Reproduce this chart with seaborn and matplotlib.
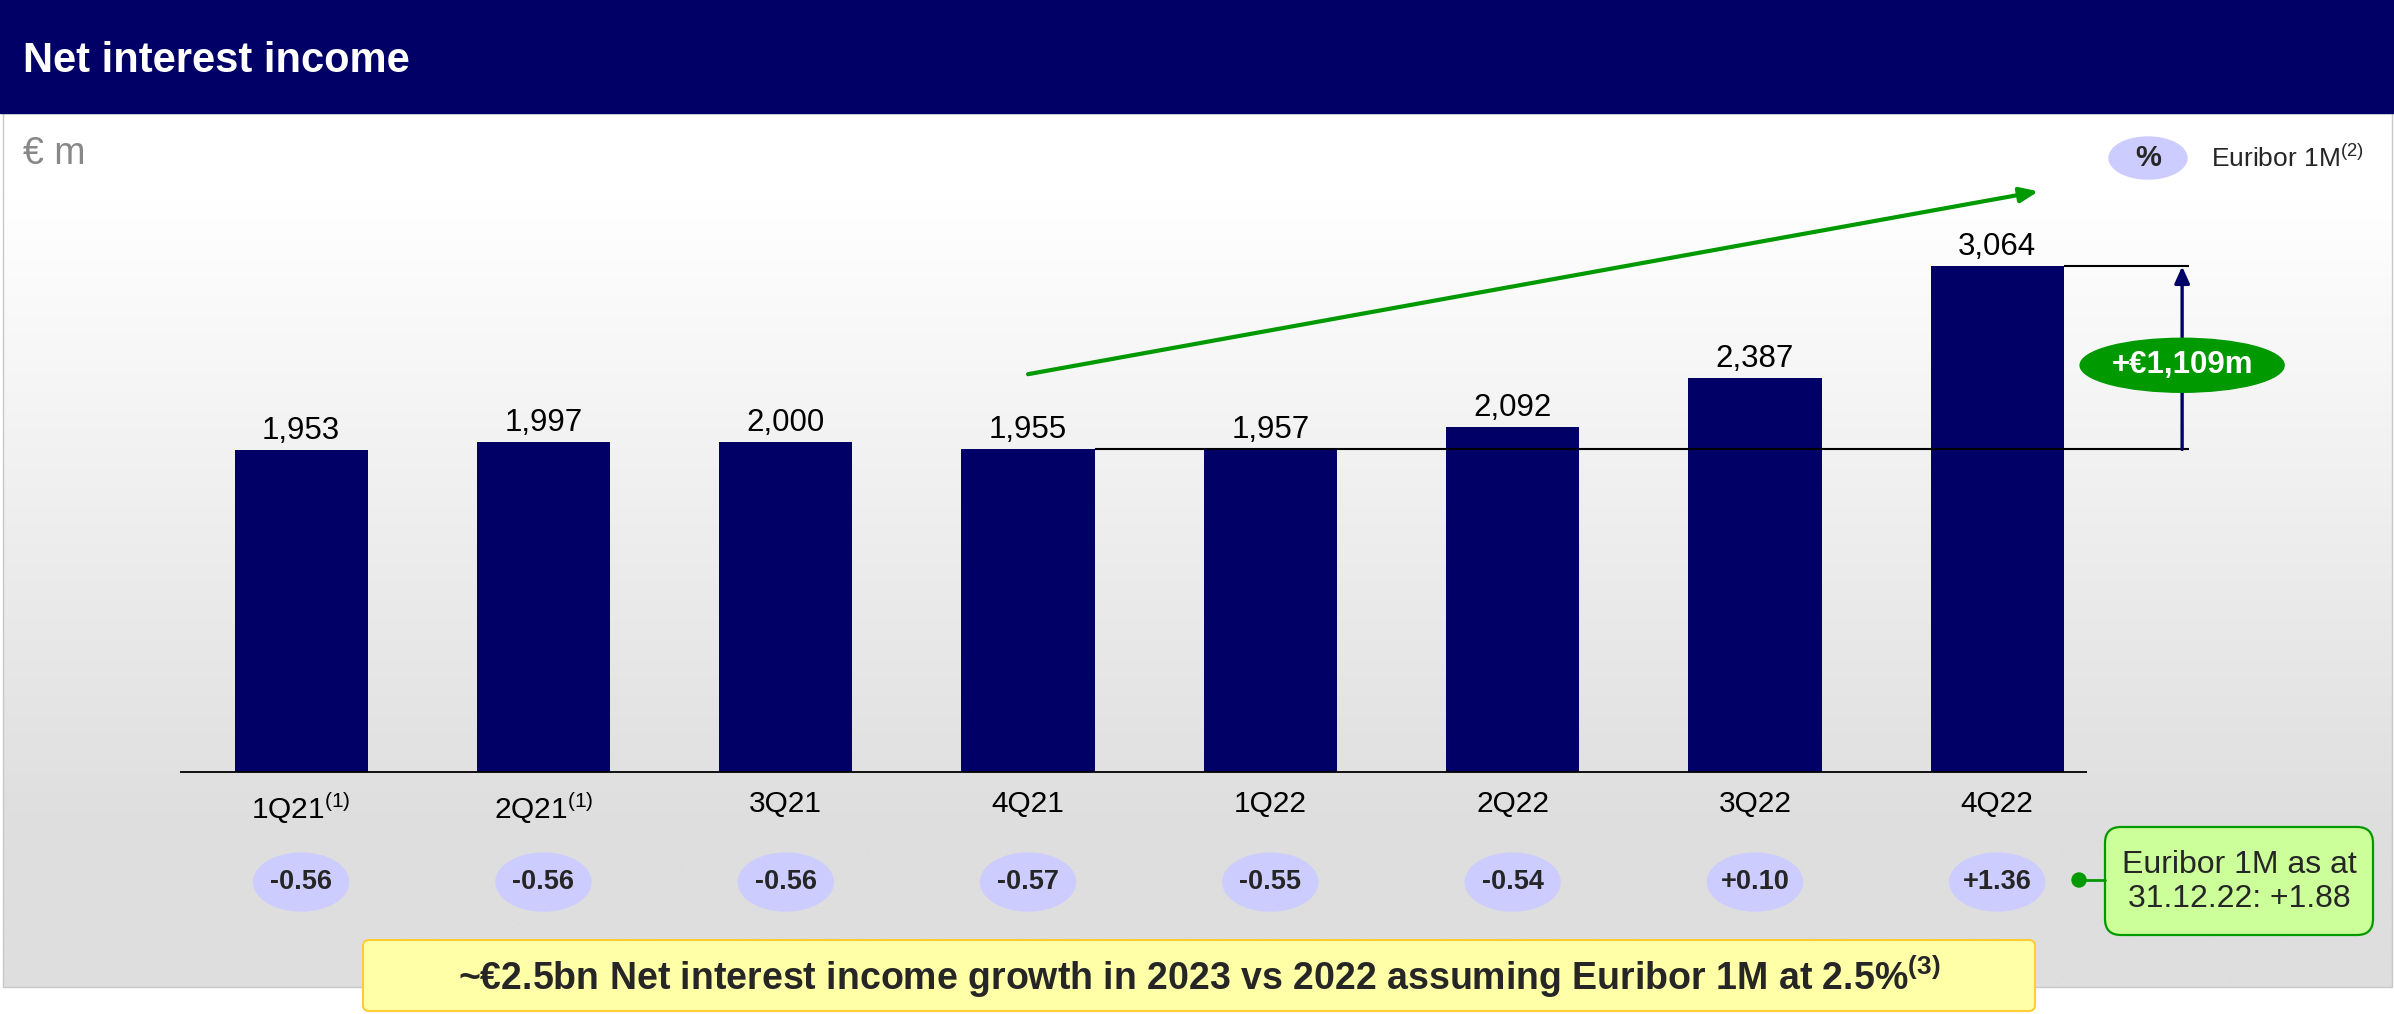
import numpy as np
import matplotlib
matplotlib.use("Agg")
import matplotlib.pyplot as plt
import seaborn as sns
from matplotlib.patches import Rectangle, Ellipse, FancyBboxPatch, Circle

# ---- data -------------------------------------------------------------
quarters = ["1Q21", "2Q21", "3Q21", "4Q21", "1Q22", "2Q22", "3Q22", "4Q22"]
quarter_notes = ["(1)", "(1)", "", "", "", "", "", ""]
net_interest_income = [1953, 1997, 2000, 1955, 1957, 2092, 2387, 3064]
euribor_1m = [-0.56, -0.56, -0.56, -0.57, -0.55, -0.54, 0.10, 1.36]
euribor_year_end = 1.88
title = "Net interest income"
unit_label = "€ m"
legend_label = "Euribor 1M"
outlook = "~€2.5bn Net interest income growth in 2023 vs 2022 assuming Euribor 1M at 2.5%"

# ---- style ------------------------------------------------------------
W, H, DPI = 2394, 1014, 100
NAVY = "#000066"
GREEN = "#009900"
LILAC = "#ccccff"

sns.set_style("white")
FONT = ["Liberation Sans", "DejaVu Sans"]
plt.rcParams["font.family"] = FONT
plt.rcParams["mathtext.fontset"] = "custom"
plt.rcParams["mathtext.rm"] = "Liberation Sans"
plt.rcParams["mathtext.it"] = "Liberation Sans:italic"
plt.rcParams["mathtext.bf"] = "Liberation Sans:bold"


def sup(note, bold=False):
    """Footnote marker rendered as a raised superscript."""
    if not note:
        return ""
    return (r"$^{\mathbf{%s}}$" if bold else r"$^{\mathrm{%s}}$") % note


fig = plt.figure(figsize=(W / DPI, H / DPI), dpi=DPI)

# ---- background layer (pixel coordinates) -----------------------------
bg = fig.add_axes([0, 0, 1, 1], zorder=0)
ys = np.linspace(113, 987, 400)
t = np.clip((ys - 200) / (830 - 200), 0, 1)
shade = 1 - t * (1 - 0xDE / 255)
grad = np.dstack([np.repeat(shade[:, None], 2, axis=1)] * 3)
bg.imshow(grad, extent=(3, 2392, 987, 113), aspect="auto",
          interpolation="bilinear", zorder=0)
bg.add_patch(Rectangle((3, 113), 2389, 874, fill=False,
                       edgecolor="#c8c8c8", lw=1, zorder=1))
bg.add_patch(Rectangle((0, 0), W, 113, color=NAVY, zorder=2))
bg.text(23, 61, title, color="white", fontsize=30, fontweight="bold",
        ha="left", va="center", zorder=3)
bg.text(23, 154, unit_label, color="#888888", fontsize=27,
        ha="left", va="center", zorder=3)
bg.set_xlim(0, W)
bg.set_ylim(H, 0)
bg.axis("off")

# ---- bar chart --------------------------------------------------------
step = 242.3  # pixels per category
ax = fig.add_axes([180 / W, (H - 772) / H, 9 * step / W, (772 - 112) / H],
                  zorder=1)
ax.patch.set_alpha(0)
sns.barplot(x=quarters, y=net_interest_income, color=NAVY, saturation=1,
            width=0.55, linewidth=0, ax=ax)
ax.set_xlim(-0.5, 8.5)
ax.set_ylim(0, 4000)
ax.set_yticks([])
ax.set_ylabel("")
ax.set_xlabel("")
sns.despine(ax=ax, left=True, bottom=True)
ax.set_xticks(range(len(quarters)))
ax.set_xticklabels([q + sup(n) for q, n in zip(quarters, quarter_notes)],
                   fontsize=21.5, color="black")
ax.tick_params(axis="x", length=0, pad=13)
ax.hlines(0, -0.5, 7.37, color="black", lw=1.3, clip_on=False, zorder=3)

ax.bar_label(ax.containers[0], labels=[f"{v:,}" for v in net_interest_income],
             padding=3, fontsize=22.5, color="black")

# trend arrow
ax.annotate("", xy=(7.17, 3519), xytext=(3.0, 2411), annotation_clip=False,
            arrowprops=dict(arrowstyle="-|>,head_length=1.1,head_width=0.45",
                            color=GREEN, lw=3, shrinkA=0, shrinkB=0))

# growth bracket between 4Q21 and 4Q22
base, last = net_interest_income[3], net_interest_income[-1]
bx = 7.763
ax.hlines(base, 3 + 0.275, 7.79, color="black", lw=1.5, zorder=3, clip_on=False)
ax.hlines(last, 7 + 0.275, 7.79, color="black", lw=1.5, zorder=3, clip_on=False)
ax.annotate("", xy=(bx, last), xytext=(bx, base), annotation_clip=False,
            arrowprops=dict(arrowstyle="-|>,head_length=1.0,head_width=0.45",
                            color=NAVY, lw=2.4, shrinkA=0, shrinkB=0))
ax.add_patch(Ellipse((bx, 2465), 0.842, 327, color=GREEN, zorder=5,
                     clip_on=False))
ax.text(bx, 2465, f"+€{last - base:,}m", color="white", fontsize=22.5,
        fontweight="bold", ha="center", va="center", zorder=6)

# Euribor 1M bubbles under each quarter
for i, rate in enumerate(euribor_1m):
    ax.add_patch(Ellipse((i, -667), 0.392, 351, color=LILAC, zorder=4,
                         clip_on=False))
    ax.text(i, -667, f"{rate:+.2f}", fontsize=19.5, fontweight="bold",
            ha="center", va="center", zorder=5, clip_on=False)

# ---- overlay layer (pixel coordinates) --------------------------------
ov = fig.add_axes([0, 0, 1, 1], zorder=3)
ov.patch.set_alpha(0)
ov.set_xlim(0, W)
ov.set_ylim(H, 0)
ov.axis("off")

# legend
ov.add_patch(Ellipse((2148, 158), 78, 42, color=LILAC))
ov.text(2148, 158, "%", fontsize=21, fontweight="bold", ha="center", va="center")
ov.text(2211, 158, legend_label + sup("(2)"), fontsize=19, ha="left",
        va="center")

# year-end Euribor callout
ov.plot([2079, 2105], [880, 880], color=GREEN, lw=2)
ov.add_patch(Circle((2079, 880), 7, color=GREEN))
ov.add_patch(FancyBboxPatch((2105, 827), 268, 108,
                            boxstyle="round,pad=0,rounding_size=16",
                            fc="#ccff99", ec=GREEN, lw=1.6))
ov.text(2239, 882, f"Euribor 1M as at\n31.12.22: {euribor_year_end:+.2f}",
        fontsize=23, ha="center", va="center", linespacing=1.15)

# outlook banner
ov.add_patch(FancyBboxPatch((363, 940), 1672, 71,
                            boxstyle="round,pad=0,rounding_size=6",
                            fc="#ffffa8", ec="#ffcc33", lw=1.5))
ov.text(1199, 977, outlook + sup("(3)", bold=True),
        fontsize=27, fontweight="bold", ha="center", va="center")

fig.savefig("out.png", dpi=DPI)
